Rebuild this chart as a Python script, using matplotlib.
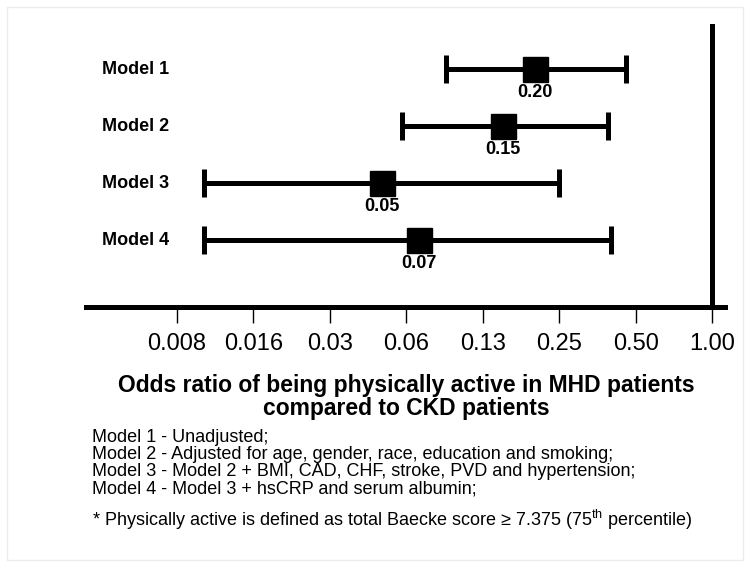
import matplotlib
matplotlib.use('Agg')
import matplotlib.pyplot as plt
import numpy as np
from matplotlib.patches import Rectangle

plt.rcParams['font.family'] = ['Liberation Sans', 'DejaVu Sans']
plt.rcParams['mathtext.fontset'] = 'custom'
plt.rcParams['mathtext.rm'] = 'Liberation Sans'

# data
models = ['Model 1', 'Model 2', 'Model 3', 'Model 4']
odds = np.array([0.20, 0.15, 0.05, 0.07])
lower = np.array([0.09, 0.06, 0.01, 0.01])
upper = np.array([0.46, 0.39, 0.25, 0.40])
odds_labels = ['0.20', '0.15', '0.05', '0.07']
tick_vals = [2.0 ** k for k in range(-7, 1)]
tick_labels = ['0.008', '0.016', '0.03', '0.06', '0.13', '0.25', '0.50', '1.00']

title_lines = ['Odds ratio of being physically active in MHD patients',
               'compared to CKD patients']
notes = ['Model 1 - Unadjusted;',
         'Model 2 - Adjusted for age, gender, race, education and smoking;',
         'Model 3 - Model 2 + BMI, CAD, CHF, stroke, PVD and hypertension;',
         'Model 4 - Model 3 + hsCRP and serum albumin;']
footnote = r'* Physically active is defined as total Baecke score ≥ 7.375 (75$^{\mathrm{th}}$ percentile)'

W, H = 751, 567
fig = plt.figure(figsize=(W / 100, H / 100), dpi=100)
ax = fig.add_axes([86 / W, 1 - 307 / H, 639 / W, (307 - 24) / H])

ypos = np.arange(1, len(models) + 1)

ax.errorbar(odds, ypos, xerr=[odds - lower, upper - odds], fmt='none',
            ecolor='black', elinewidth=3.6, capsize=10, capthick=3.6)
ax.plot(odds, ypos, 's', color='black', ms=18, zorder=5)
ax.axvline(1.0, color='black', lw=3.6)

for y, lab, val in zip(ypos, odds_labels, odds):
    ax.annotate(lab, (val, y), xytext=(0, -17), textcoords='offset points',
                ha='center', va='center', fontsize=13, fontweight='bold')

for y, m in zip(ypos, models):
    ax.text(16 / 639, y, m, transform=ax.get_yaxis_transform(),
            ha='left', va='center', fontsize=13, fontweight='bold')

ax.set_xscale('log', base=2)
ax.set_xlim(2 ** (-7 - 91 / 76.43), 2 ** (13 / 76.43))
ax.set_ylim(5.175, 0.21)
ax.set_xticks(tick_vals)
ax.set_xticklabels(tick_labels)
ax.xaxis.set_minor_locator(matplotlib.ticker.NullLocator())
ax.tick_params(axis='x', direction='out', length=11.5, width=1, pad=7, labelsize=17)
ax.set_yticks([])
for s in ['top', 'left', 'right']:
    ax.spines[s].set_visible(False)
ax.spines['bottom'].set_linewidth(3.6)

# axis title, two centred lines
for i, line in enumerate(title_lines):
    fig.text(406 / W, 1 - (392 + 23 * i) / H, line, ha='center', va='baseline',
             fontsize=16.5, fontweight='bold')

# model descriptions + footnote
for i, line in enumerate(notes):
    fig.text(92 / W, 1 - (442 + 17 * i) / H, line, ha='left', va='baseline', fontsize=13)
fig.text(92 / W, 1 - 526 / H, footnote, ha='left', va='baseline', fontsize=13)

fig.add_artist(Rectangle((7 / W, 1 - 560 / H), 736 / W, 553 / H, transform=fig.transFigure,
                         fill=False, edgecolor='#ececec', lw=1))

fig.savefig('out.png', dpi=100)
